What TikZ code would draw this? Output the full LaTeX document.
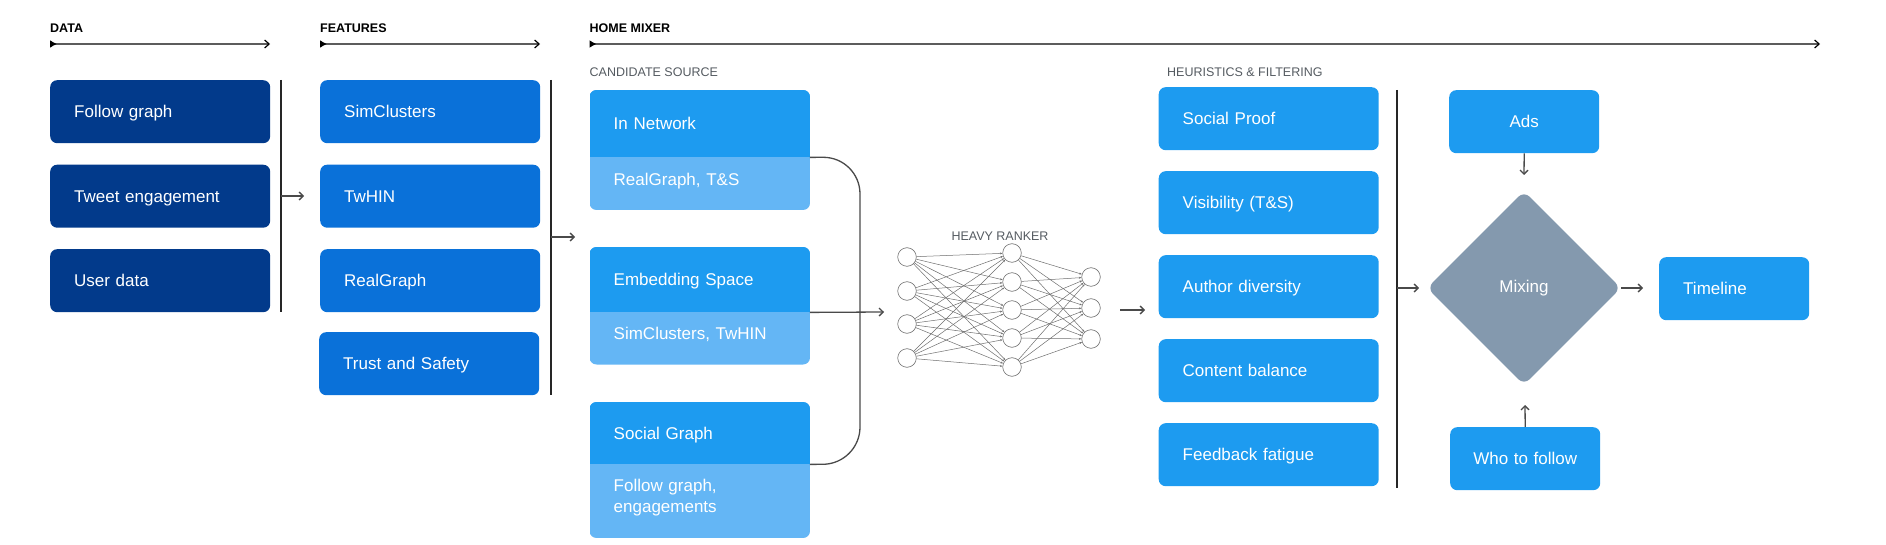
\documentclass[tikz,border=0pt]{standalone}
\usepackage{fontspec}
\setmainfont{Liberation Sans}
\usetikzlibrary{arrows.meta}
\usetikzlibrary{shapes.geometric}

\definecolor{datablue}{HTML}{023A8B}
\definecolor{featblue}{HTML}{0A71D9}
\definecolor{twblue}{HTML}{1D9BF0}
\definecolor{lightblue}{HTML}{64B6F5}
\definecolor{mixgray}{HTML}{8499AE}
\definecolor{linegray}{HTML}{4A4A4A}
\definecolor{headgray}{HTML}{5C5C5C}
\definecolor{subgray}{HTML}{555B61}
\definecolor{nngray}{HTML}{6E6E6E}

\begin{document}
\begin{tikzpicture}[x=1pt,y=-1pt,
		box/.style={rectangle,anchor=north west,rounded corners=7pt,minimum width=220pt,minimum height=63pt,inner xsep=24pt,inner ysep=0pt,text width=172pt,align=left,text=white,text height=12.3pt,text depth=0pt,font=\fontsize{17}{21}\selectfont},
		databox/.style={box,fill=datablue},
		featbox/.style={box,fill=featblue},
		heurbox/.style={box,fill=twblue},
		srctop/.style={box,fill=twblue,sharp corners},
		srcsub/.style={box,anchor=west,minimum height=0pt},
		smallbox/.style={box,fill=twblue,minimum width=150pt,inner xsep=10pt,text width=130pt,align=center},
		endbox/.style={box,fill=twblue,minimum width=150pt,text width=102pt},
		mixer/.style={diamond,aspect=1,fill=mixgray,minimum size=194pt,inner sep=0pt,rounded corners=8pt,text=white,font=\fontsize{17}{21}\selectfont},
		head/.style={anchor=base west,inner sep=0pt,font=\bfseries\fontsize{12.5}{15}\selectfont},
		subhead/.style={anchor=base west,inner sep=0pt,text=subgray,font=\fontsize{12.5}{15}\selectfont},
		stage/.style={draw=headgray,line width=1.8pt,{Latex[reversed,length=7pt,width=8pt,black]}-{Straight Barb[length=4.5pt,width=8pt,line width=1.2pt,black]}},
		bar/.style={draw=black!85,line width=1.1pt},
		arr/.style={draw=linegray,line width=1.3pt,-{Straight Barb[length=4pt,width=8pt]}},
		neuron/.style={circle,draw=nngray,line width=0.6pt,fill=white,minimum size=18.6pt,inner sep=0pt},
		nnedge/.style={draw=nngray,line width=0.5pt,-{Stealth[length=2.5pt,width=2pt]}}]
		\useasboundingbox (0,0) rectangle (1886,545);
		
		% stage headers
		\node[head] (data-h) at (50,33) {DATA};
		\node[head] (feat-h) at (320,33) {FEATURES};
		\node[head] (home-h) at (589.5,33) {HOME MIXER};
		\coordinate (data-s) at (50,44);
		\coordinate (data-e) at (270,44);
		\coordinate (feat-s) at (320,44);
		\coordinate (feat-e) at (540,44);
		\coordinate (home-s) at (589.5,44);
		\coordinate (home-e) at (1820,44);
		\draw[stage] (data-s) -- (data-e);
		\draw[stage] (feat-s) -- (feat-e);
		\draw[stage] (home-s) -- (home-e);
		
		% data
		\node[databox] (follow) at (50,80) {Follow graph};
		\node[databox] (tweet) at (50,164.5) {Tweet engagement};
		\node[databox] (user) at (50,249) {User data};
		\coordinate (data-bt) at (281,80);
		\coordinate (data-bb) at (281,312);
		\coordinate (data-o) at (281,196);
		\coordinate (feat-i) at (304,196);
		\draw[bar] (data-bt) -- (data-bb);
		\draw[arr] (data-o) -- (feat-i);
		
		% features
		\node[featbox] (simc) at (320,80) {SimClusters};
		\node[featbox] (twhin) at (320,164.5) {TwHIN};
		\node[featbox] (realg) at (320,249) {RealGraph};
		\node[featbox] (trust) at (319,332) {Trust and Safety};
		\coordinate (feat-bt) at (551,80);
		\coordinate (feat-bb) at (551,394.5);
		\coordinate (feat-o) at (551,237);
		\coordinate (home-i) at (575,237);
		\draw[bar] (feat-bt) -- (feat-bb);
		\draw[arr] (feat-o) -- (home-i);
		
		% candidate source
		\node[subhead] (cand-h) at (589.5,77) {CANDIDATE SOURCE};
		\begin{scope}
			\clip[rounded corners=7pt] (589.5,90) rectangle (810,210);
			\fill[lightblue] (589.5,90) rectangle (810,210);
			\node[srctop,minimum height=67pt] (innet) at (589.5,90) {In Network};
		\end{scope}
		\node[srcsub] (innet-sub) at (589.5,179) {RealGraph, T\&S};
		\begin{scope}
			\clip[rounded corners=7pt] (589.5,247) rectangle (810,364.5);
			\fill[lightblue] (589.5,247) rectangle (810,364.5);
			\node[srctop,minimum height=65pt] (embed) at (589.5,247) {Embedding Space};
		\end{scope}
		\node[srcsub] (embed-sub) at (589.5,333.5) {SimClusters, TwHIN};
		\begin{scope}
			\clip[rounded corners=7pt] (589.5,402) rectangle (810,538);
			\fill[lightblue] (589.5,402) rectangle (810,538);
			\node[srctop,minimum height=62pt] (social) at (589.5,402) {Social Graph};
		\end{scope}
		\node[srcsub,text depth=21pt] (social-sub) at (589.5,496) {Follow graph,\\engagements};
		\coordinate (rank-i) at (884,312);
		\draw[linegray,line width=1.3pt,rounded corners=37pt] (innet.south east) -- (860,157) -- (860,464) -- (social.south east);
		\draw[arr] (embed.south east) -- (rank-i);
		
		% heavy ranker
		\node[subhead,anchor=base] (rank-h) at (1000,240.5) {HEAVY RANKER};
		\foreach \i/\y in {1/257,2/291,3/324,4/358}
			\node[neuron] (in\i) at (907,\y) {};
		\foreach \i/\y in {1/253,2/282,3/310,4/338,5/367}
			\node[neuron] (hid\i) at (1012,\y) {};
		\foreach \i/\y in {1/277,2/308,3/339}
			\node[neuron] (out\i) at (1091,\y) {};
		\foreach \i in {1,...,4}
			\foreach \j in {1,...,5}
				\draw[nnedge] (in\i) -- (hid\j);
		\foreach \i in {1,...,5}
			\foreach \j in {1,...,3}
				\draw[nnedge] (hid\i) -- (out\j);
		\coordinate (rank-o) at (1120,310);
		\coordinate (heur-i) at (1145,310);
		\draw[arr] (rank-o) -- (heur-i);
		
		% heuristics and filtering
		\node[subhead] (heur-h) at (1167,77) {HEURISTICS \& FILTERING};
		\node[heurbox] (proof) at (1158.5,87) {Social Proof};
		\node[heurbox] (visib) at (1158.5,171) {Visibility (T\&S)};
		\node[heurbox] (author) at (1158.5,255) {Author diversity};
		\node[heurbox] (content) at (1158.5,339) {Content balance};
		\node[heurbox] (fatigue) at (1158.5,423) {Feedback fatigue};
		\coordinate (heur-bt) at (1397,90);
		\coordinate (heur-bb) at (1397,488);
		\coordinate (heur-o) at (1397,288);
		\coordinate (mix-i) at (1419,288);
		\draw[bar] (heur-bt) -- (heur-bb);
		\draw[arr] (heur-o) -- (mix-i);
		
		% mixing
		\node[mixer] (mix) at (1524,288) {Mixing};
		\node[smallbox] (ads) at (1449,90) {Ads};
		\node[smallbox] (wtf) at (1450,427) {Who to follow};
		\node[endbox] (timeline) at (1659,257) {Timeline};
		\coordinate (ads-e) at (1524,175);
		\coordinate (wtf-e) at (1525,405);
		\coordinate (time-e) at (1643,288);
		\draw[arr] (ads.south) -- (ads-e);
		\draw[arr] (wtf.north) -- (wtf-e);
		\draw[arr] (mix.east) -- (time-e);
		
\end{tikzpicture}
\end{document}
